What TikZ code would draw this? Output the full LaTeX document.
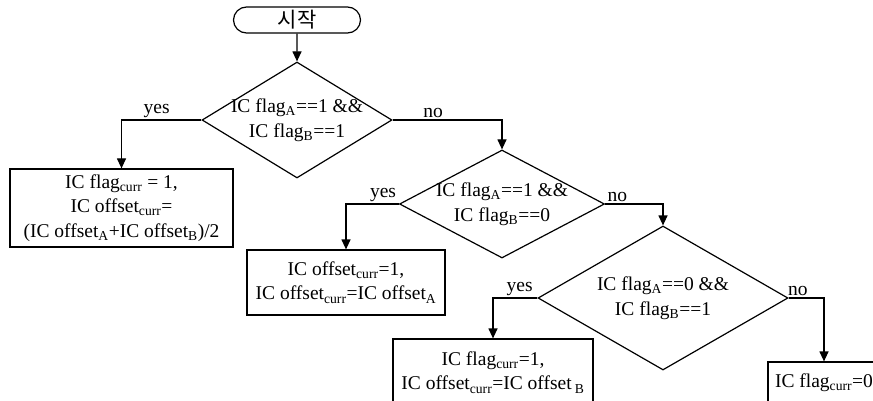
\documentclass[tikz,border=0pt]{standalone}
\usepackage{fontspec}
\setmainfont{Liberation Serif}
\newfontfamily\krfont{Noto Sans CJK KR}
\usetikzlibrary{arrows.meta,positioning,shapes.geometric,shapes.misc}

\newcommand{\ctext}[1]{\makebox[0pt]{\begin{tabular}{@{}c@{}}#1\end{tabular}}}

\begin{document}
\begin{tikzpicture}[
  x=1pt, y=-1pt,
  font=\fontsize{19.5}{24.5}\selectfont,
  term/.style={rounded rectangle, draw, line width=1.2pt, minimum width=127, minimum height=26, inner sep=0pt, font=\krfont\fontsize{21}{22}\selectfont},
  decision/.style={diamond, draw, line width=1.2pt, inner sep=0pt},
  proc/.style={rectangle, draw, line width=1.2pt, align=center, inner sep=0pt},
  arr/.style={-{Triangle[length=10pt,width=9pt]}, line width=1.2pt},
  lbl/.style={above, inner sep=2pt}
]
\useasboundingbox (0,0) rectangle (873,401);
\clip (0,0) rectangle (873,401);

\node[term] (start) at (297,20) {시작};
\node[decision, minimum width=190, minimum height=116] (cond1) at (297,120)
  {\ctext{IC flag\textsubscript{A}==1 \&\&\\IC flag\textsubscript{B}==1}};
\node[proc, minimum width=223, minimum height=78] (both) at (121.5,208)
  {IC flag\textsubscript{curr} = 1,\\IC offset\textsubscript{curr}=\\(IC offset\textsubscript{A}+IC offset\textsubscript{B})/2};
\node[decision, minimum width=205, minimum height=108] (cond2) at (502,204)
  {\ctext{IC flag\textsubscript{A}==1 \&\&\\IC flag\textsubscript{B}==0}};
\node[proc, minimum width=198, minimum height=65] (onlyA) at (346,282.5)
  {IC offset\textsubscript{curr}=1,\\IC offset\textsubscript{curr}=IC offset\textsubscript{A}};
\node[decision, minimum width=250, minimum height=144] (cond3) at (663,298)
  {\ctext{IC flag\textsubscript{A}==0 \&\&\\IC flag\textsubscript{B}==1}};
\node[proc, minimum width=200, minimum height=67] (onlyB) at (493,372.5)
  {IC flag\textsubscript{curr}=1,\\IC offset\textsubscript{curr}=IC offset\,\textsubscript{B}};
\node[proc, minimum width=112, minimum height=42] (none) at (824,383)
  {IC flag\textsubscript{curr}=0};

\draw[arr] (start) -- (cond1);
\draw[arr] (cond1.west) -| node[lbl, pos=0.28] {yes} (both.north);
\draw[arr] (cond1.east) -| node[lbl, pos=0.185] {no} (cond2.north);
\draw[arr] (cond2.west) -| node[lbl, pos=0.15] {yes} (onlyA.north);
\draw[arr] (cond2.east) -| node[lbl, pos=0.105] {no} (cond3.north);
\draw[arr] (cond3.west) -| node[lbl, pos=0.2] {yes} (onlyB.north);
\draw[arr] (cond3.east) -| node[lbl, pos=0.13] {no} (none.north);
\end{tikzpicture}
\end{document}
